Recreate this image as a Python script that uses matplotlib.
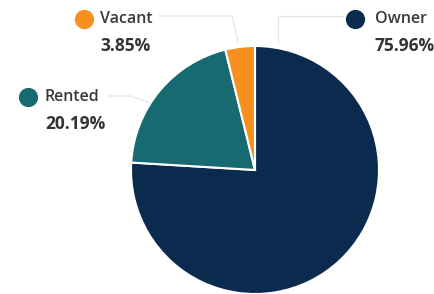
import numpy as np
import matplotlib.pyplot as plt

labels = ['Owner', 'Rented', 'Vacant']
shares = [75.96, 20.19, 3.85]
colors = ['#0b2b4e', '#176a72', '#f7901e']

W, H = 435, 294
plt.rcParams['font.family'] = ['Open Sans', 'DejaVu Sans']

fig = plt.figure(figsize=(W / 100, H / 100), dpi=100)
ax = fig.add_axes([0, 0, 1, 1])


def py(y):
    """pixel row -> data y"""
    return H - y


cx, cy, r = 255, 170, 124
wedges, _ = ax.pie(shares, colors=colors, startangle=90, counterclock=False,
                   center=(cx, py(cy)), radius=r, frame=True,
                   wedgeprops=dict(edgecolor='white', linewidth=1.5))
ax.set_xlim(0, W)
ax.set_ylim(0, H)
ax.set_aspect('equal')
ax.axis('off')

# label anchor: dot position (pixels), text x
label_pos = {
    'Owner': (355, 19, 375),
    'Rented': (28, 97, 45),
    'Vacant': (84, 19, 100),
}
# leader lines (pixel coords)
leaders = {
    'Owner': [(343, 16), (278, 16), (278, 42)],
    'Rented': [(108, 96), (130, 96), (150, 103)],
    'Vacant': [(160, 16), (232, 16), (238, 42)],
}

for name, share, col in zip(labels, shares, colors):
    dx, dy, tx = label_pos[name]
    ax.scatter([dx], [py(dy)], s=165, color=col, zorder=5)
    ax.text(tx, py(dy), name, fontsize=11.5, color='#3a3a3a',
            fontweight='semibold', va='center', ha='left')
    ax.text(tx, py(dy + 27), f'{share:.2f}%', fontsize=12.5, color='#333333',
            fontweight='bold', va='center', ha='left')
    pts = np.array(leaders[name], dtype=float)
    ax.plot(pts[:, 0], H - pts[:, 1], color='#e8e8e8', lw=1, zorder=0)

fig.savefig('out.png', dpi=100, facecolor='white')
